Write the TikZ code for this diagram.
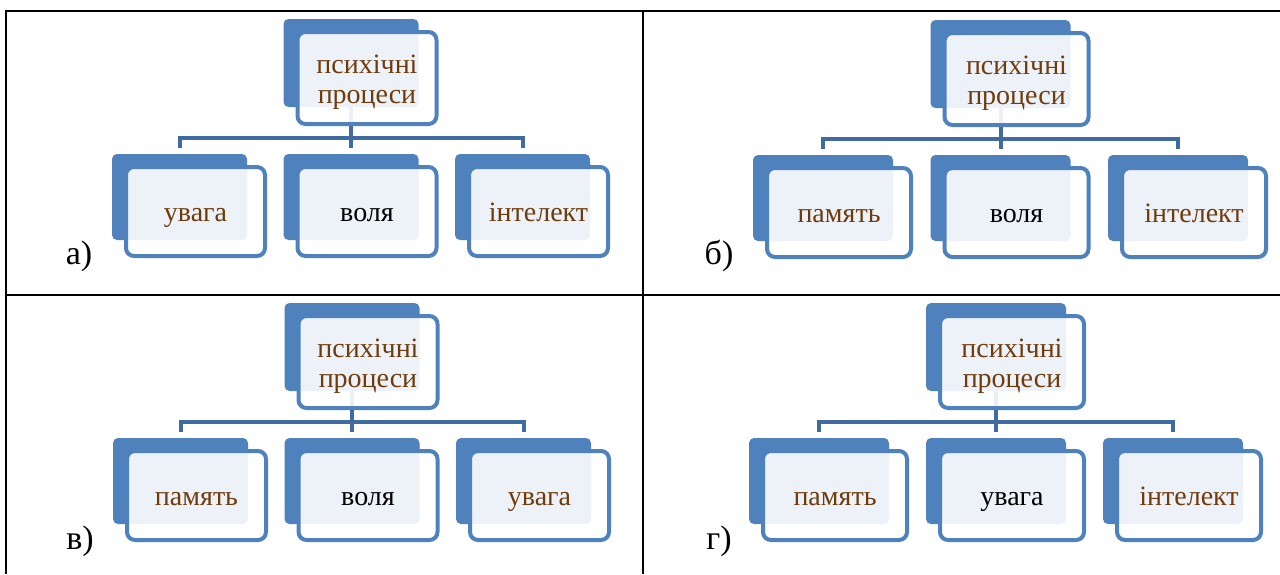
\documentclass[tikz,border=0pt]{standalone}
\usepackage{fontspec}
\setmainfont{Liberation Serif}
\usetikzlibrary{backgrounds}

\definecolor{boxblue}{HTML}{4F81BD}
\definecolor{linkblue}{HTML}{3F6BA2}
\definecolor{textbrown}{HTML}{6F3B0B}

\tikzset{
  backbox/.style={fill=boxblue, rounded corners=5pt, anchor=north west,
    inner sep=0pt, outer sep=0pt, minimum height=86pt},
  frontbox/.style={draw=boxblue, line width=4pt, fill=white, fill opacity=0.9,
    text opacity=1, rounded corners=8pt, anchor=north west, inner sep=0pt,
    outer sep=0pt, minimum height=89pt, align=center, text=textbrown,
    text height=22pt, text depth=3pt,
    font=\fontsize{28}{30}\selectfont},
  topbox/.style={frontbox, minimum height=92pt, text height=52pt, text depth=2pt},
  midtext/.style={text=black},
  link/.style={draw=linkblue, line width=4pt},
  rule/.style={draw=black, line width=2.5pt},
  tag/.style={font=\fontsize{34}{38}\selectfont}
}

\begin{document}
\begin{tikzpicture}[x=1pt,y=-1pt]
  \useasboundingbox (0,0) rectangle (1280,574);

  % table
  \draw[rule] (6,574) -- (6,11) -- (1280,11);
  \draw[rule] (643,11) -- (643,574);
  \draw[rule] (6,295) -- (1280,295);

  \foreach \p/\ox/\oy/\gap/\w/\ta/\tb/\tc/\tg/\tx/\ty in {
      a/112/154/171.5/135/увага/воля/інтелект/а)/79/256,
      b/753/155/177.5/140/память/воля/інтелект/б)/719/256,
      c/113/438/171.5/135/память/воля/увага/в)/80/541,
      d/749/438/177/140/память/увага/інтелект/г)/719/541}
  {
    % back boxes
    \node[backbox, minimum width=\w pt, minimum height=88pt] (\p-top) at (\ox+\gap,\oy-135) {};
    \node[backbox, minimum width=\w pt] (\p-1) at (\ox,\oy) {};
    \node[backbox, minimum width=\w pt] (\p-2) at (\ox+\gap,\oy) {};
    \node[backbox, minimum width=\w pt] (\p-3) at (\ox+2*\gap,\oy) {};

    % front boxes
    \node[topbox, minimum width=\w pt+4pt] (\p-topf)
      at ([shift={(14,13)}]\p-top.north west) {психічні\\процеси};
    \node[frontbox, minimum width=\w pt+4pt] (\p-1f) at ([shift={(14,13)}]\p-1.north west) {\ta};
    \node[frontbox, midtext, minimum width=\w pt+4pt] (\p-2f) at ([shift={(14,13)}]\p-2.north west) {\tb};
    \node[frontbox, minimum width=\w pt+4pt] (\p-3f) at ([shift={(14,13)}]\p-3.north west) {\tc};

    \node[tag] (\p-tag) at (\tx,\ty) {\tg};

    % connectors
    \begin{scope}[on background layer]
      \coordinate (\p-bar) at (0,\oy-16);
      \draw[link] ([yshift=6pt]\p-1.north) -- (\p-1.north |- \p-bar)
        -- (\p-3.north |- \p-bar) -- ([yshift=6pt]\p-3.north);
      \draw[link] (\p-top.south) -- ([yshift=6pt]\p-2.north);
    \end{scope}
  }
\end{tikzpicture}
\end{document}
